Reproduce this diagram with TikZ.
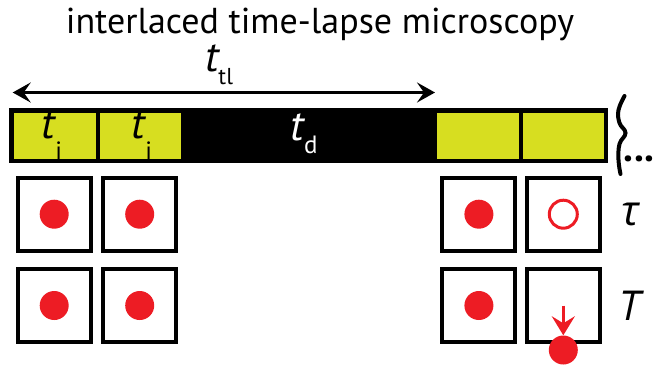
\documentclass[tikz,border=0pt]{standalone}
\usepackage{fontspec}
\setmainfont{PT Sans}
\newfontfamily\greekfont{Open Sans}
\usepackage{tikz}
\usetikzlibrary{arrows.meta,positioning}

\definecolor{cellgreen}{RGB}{215,222,32}
\definecolor{dotred}{RGB}{237,28,36}
% italic t with a lowered upright index
\newcommand{\tsym}[3]{{\fontsize{43}{43}\selectfont\itshape t}\raisebox{-#1}{\fontsize{#2}{#2}\selectfont #3}}

\begin{document}
\begin{tikzpicture}[x=1pt, y=-1pt,
  cell/.style={draw, line width=4pt, minimum size=73pt, inner sep=0pt},
  slot/.style={fill=cellgreen, minimum width=81.5pt, minimum height=46.5pt, inner sep=0pt},
  spot/.style={circle, fill=dotred, minimum size=29pt, inner sep=0pt},
  ring/.style={circle, draw=dotred, line width=3pt, minimum size=28pt, inner sep=0pt},
  lbl/.style={font=\fontsize{42}{42}\selectfont\itshape, inner sep=0pt, anchor=base},
  span/.style={{Stealth[length=18pt, width=20pt, inset=7pt]}-{Stealth[length=18pt, width=20pt, inset=7pt]}, line width=3pt},
  drip/.style={-{Stealth[length=19pt, width=23pt, inset=7pt]}, draw=dotred, line width=3.2pt}
]
  \useasboundingbox (0,0) rectangle (656,365);

  \node[anchor=base, inner sep=0pt, font=\fontsize{36}{36}\selectfont] (title) at (320,33) {interlaced time-lapse microscopy};

  % time line
  \node[fill=black, minimum width=599pt, minimum height=54.4pt, inner sep=0pt] (bar) at (308.8,135.5) {};
  \foreach \x/\n in {54.8/1, 140.5/2, 477.8/3, 563.3/4}
    \node[slot] (s\n) at (\x,135.8) {};

  \node[anchor=base, inner sep=0pt] (ti1) at (52,138) {\tsym{21pt}{25}{i}};
  \node[anchor=base, inner sep=0pt] (ti2) at (142,138) {\tsym{21pt}{25}{i}};
  \node[anchor=base, inner sep=0pt, text=white] (td) at (304,140) {\tsym{13pt}{25}{d}};
  \node[anchor=base, inner sep=0pt] (ttl) at (219,71.7) {\tsym{13pt}{23}{tl}};

  \coordinate (tl0) at (12.7,92.5);
  \coordinate (tl1) at (435,92.5);
  \draw[span] (tl0) -- (tl1);

  \draw[line width=4pt, line cap=round] plot[smooth, tension=0.7] coordinates {(624.5,96) (618.5,110) (619.5,123) (625.5,133) (619.5,144) (618.5,160) (620.5,174)};
  \node[anchor=base, inner sep=0pt, font=\fontsize{40}{40}\selectfont\bfseries] (more) at (639,161) {...};

  % frames
  \foreach \x/\n in {54.2/1, 139.7/2, 478.9/3, 563.3/4} {
    \node[cell] (a\n) at (\x,214.2) {};
    \node[cell] (b\n) at (\x,305.5) {};
  }
  \foreach \n in {1,2,3} {
    \node[spot] at (a\n) {};
    \node[spot] at (b\n) {};
  }
  \node[ring] (gone) at (a4) {};
  \node[spot] (drop) at (563.3,350) {};
  \draw[drip] (b4.center) -- (drop.north);

  \node[lbl] (tau) at (630,225) {{\greekfont τ}};
  \node[lbl] (big) at (630,320) {T};
\end{tikzpicture}
\end{document}
